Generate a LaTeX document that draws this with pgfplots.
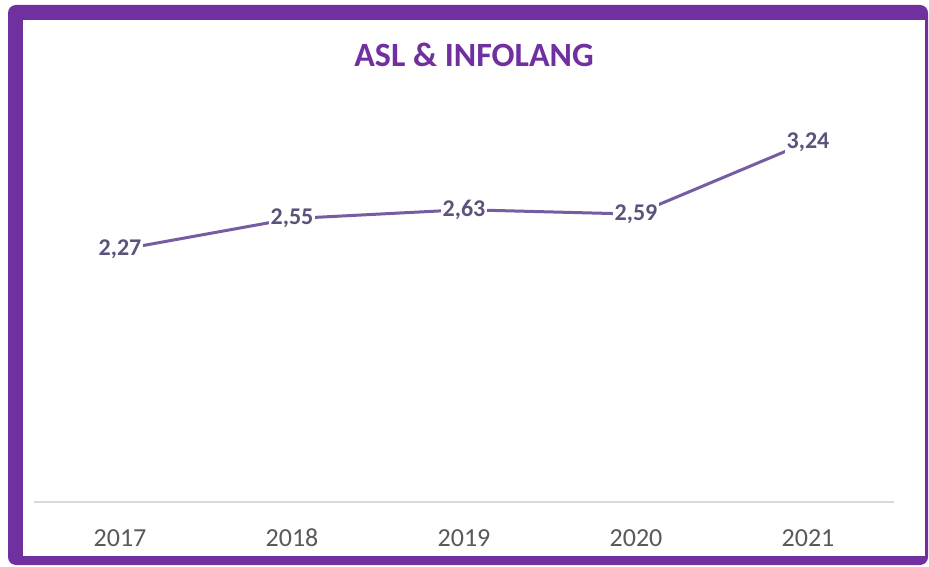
\documentclass[border=0pt]{standalone}
\usepackage{pgfplots}
\pgfplotsset{compat=1.18}
\usepackage{fontspec}
\setmainfont{Carlito}

\definecolor{frame}{RGB}{112,48,160}
\definecolor{linecol}{RGB}{118,92,160}
\definecolor{labcol}{RGB}{92,82,122}
\definecolor{tickcol}{RGB}{89,89,89}
\definecolor{basecol}{RGB}{217,217,217}

\begin{document}
\begin{tikzpicture}[x=1pt,y=1pt]
	% page size and frame
	\path (0,0) rectangle (464.5,283);
	\fill[frame, rounded corners=4pt] (4,0.5) rectangle (464,280.5);
	\fill[white] (11.5,5) rectangle (462.5,273);

	\node[text=frame, font=\fontsize{17}{19}\selectfont\bfseries] at (237,255.5) {ASL \& INFOLANG};

	\begin{axis}[
			at={(17pt,32pt)}, anchor=south west,
			scale only axis,
			width=430pt, height=194.5pt,
			xmin=-0.5, xmax=4.5,
			ymin=0, ymax=3.5,
			axis y line=none,
			axis x line*=bottom,
			x axis line style={basecol, line width=0.8pt, -},
			xtick={0,1,2,3,4},
			xticklabels={2017,2018,2019,2020,2021},
			major tick length=0pt,
			typeset ticklabels with strut,
			xticklabel style={text=tickcol, font=\fontsize{13}{15}\selectfont, yshift=-8pt},
			clip=false,
			nodes near coords,
			every node near coord/.style={anchor=center, fill=white, inner sep=1pt,
				text=labcol, font=\fontsize{12}{14}\selectfont\bfseries},
			/pgf/number format/.cd, use comma, fixed, fixed zerofill, precision=2, assume math mode=true
		]
		\addplot[linecol, line width=1.5pt, mark=none] coordinates {
				(0,2.27) (1,2.55) (2,2.63) (3,2.59) (4,3.24)
			};
	\end{axis}
\end{tikzpicture}
\end{document}
